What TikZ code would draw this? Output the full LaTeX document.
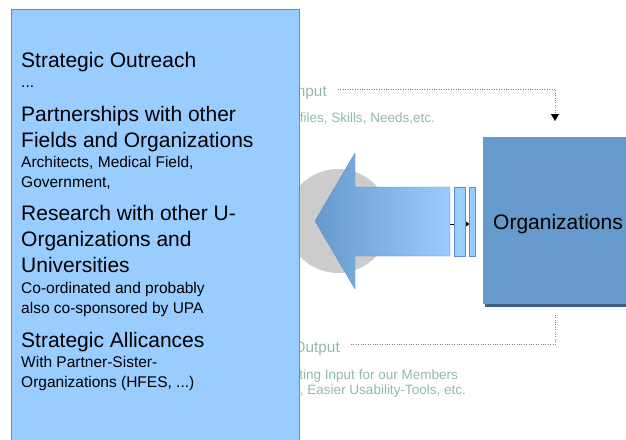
\documentclass[tikz,border=0pt]{standalone}
\usepackage{fontspec}
\setmainfont{Liberation Sans}
\usetikzlibrary{arrows.meta}

\definecolor{panelblue}{HTML}{99CCFF}
\definecolor{orgblue}{HTML}{6699CC}
\definecolor{edgeblue}{HTML}{5F8FC0}
\definecolor{shadowblue}{HTML}{3E5F82}
\definecolor{faintgreen}{HTML}{8FBBA5}
\definecolor{discgray}{HTML}{CCCCCC}

\newcommand{\headsize}{\fontsize{21}{26}\selectfont}
\newcommand{\notesize}{\fontsize{15.5}{19.5}\selectfont}
\newcommand{\flowsize}{\fontsize{15.4}{18}\selectfont}
\newcommand{\smallflow}{\fontsize{13.5}{15.5}\selectfont}

\begin{document}
\begin{tikzpicture}[x=1pt, y=-1pt,
	head/.style={anchor=base west, inner sep=0pt, align=left, font=\headsize},
	note/.style={anchor=base west, inner sep=0pt, align=left, font=\notesize},
	faint/.style={anchor=base east, inner sep=0pt, text=faintgreen},
	flow/.style={draw=gray, dotted, thin}]
	\useasboundingbox (0,0) rectangle (626,439);
	\clip (0,0) rectangle (626,439);

	% input and output labels, partly under the panel
	\node[faint, font=\flowsize] (inlbl) at (327,96) {Input};
	\node[faint, font=\smallflow] (inwhat) at (435,122) {Profiles, Skills, Needs,etc.};
	\node[faint, font=\flowsize] (outlbl) at (340,352) {Output};
	\node[faint, font=\smallflow] (outwhat1) at (458,379) {Generating Input for our Members};
	\node[faint, font=\smallflow] (outwhat2) at (466,394) {Methods, Easier Usability-Tools, etc.};

	% disc behind the big arrow
	\fill[discgray] (338,221) circle (52);

	% small arrow into the organizations
	\coordinate (tail) at (450,224);
	\coordinate (tip) at (470,224);
	\draw[-{Latex[length=4pt,width=5pt]}] (tail) -- (tip);

	% big arrow pointing to the panel
	\shadedraw[left color=orgblue, right color=panelblue, draw=edgeblue]
		(315,221) -- (355,153) -- (355,187) -- (450,187) -- (450,256)
		-- (355,256) -- (355,289) -- cycle;
	\filldraw[fill=panelblue, draw=edgeblue] (454,187) rectangle (465,256);
	\filldraw[fill=panelblue, draw=edgeblue] (469,187) rectangle (475,256);

	% organizations box
	\fill[shadowblue] (485,139) rectangle (645,306.5);
	\node[fill=orgblue, minimum width=150pt, minimum height=167pt, inner sep=0pt,
		text height=17pt, text depth=0pt, font=\headsize] (org) at (558,220.5) {Organizations};

	% dotted flows
	\coordinate (instart) at (338,89);
	\coordinate (indrop) at (555,121);
	\draw[flow, -{Triangle[width=8pt,length=7pt,black]}] (instart) -| (indrop);
	\coordinate (outstart) at (351,344);
	\coordinate (outrise) at (555,313);
	\draw[flow] (outstart) -| (outrise);

	% the panel (multi-line nodes sit on their last baseline)
	\filldraw[fill=panelblue, draw=edgeblue] (11,9) rectangle (299,460);

	\node[head] (outreach) at (21,67) {Strategic Outreach};
	\node[note] (outreachnote) at (21,87) {...};
	\node[head] (partner) at (21,147) {Partnerships with other\\Fields and Organizations};
	\node[note] (partnernote) at (21,187) {Architects, Medical Field,\\Government,};
	\node[head] (research) at (21,272) {Research with other U-\\Organizations and\\Universities};
	\node[note] (researchnote) at (21,313) {Co-ordinated and probably\\also co-sponsored by UPA};
	\node[head] (alliance) at (21,347) {Strategic Allicances};
	\node[note] (alliancenote) at (21,387) {With Partner-Sister-\\Organizations (HFES, ...)};
\end{tikzpicture}
\end{document}
